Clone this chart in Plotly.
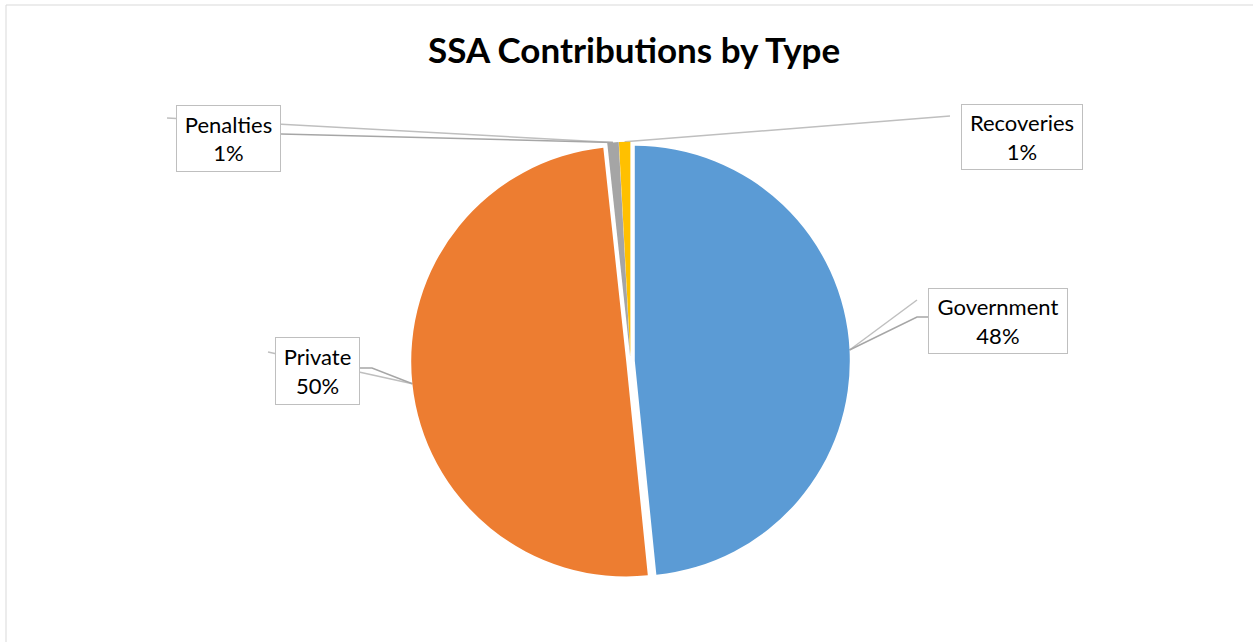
import math
import plotly.graph_objects as go

# ---- data ----
labels = ["Government", "Private", "Penalties", "Recoveries"]
values = [48.4, 49.9, 0.85, 0.85]
colors = ["#5B9BD5", "#ED7D31", "#A5A5A5", "#FFC000"]
title_text = "SSA Contributions by Type"

# ---- layout constants ----
W, H = 1253, 642
OFF = 0                      # page body margin removed via post_script
CX, CY = 630.5, 361.0        # pie centre in page pixels
R = 215.0                    # pie radius in pixels
PULL = 0.02
FONT = "Lato, Calibri, Carlito, sans-serif"

def px(x):
    return (x - OFF) / W

def py(y):
    return 1 - (y - OFF) / H

total = sum(values)
fracs = [v / total for v in values]

# bisector angle (clockwise from 12 o'clock) of every slice
mids = []
acc = 0.0
for f in fracs:
    mids.append((acc + f / 2) * 360.0)
    acc += f

def anchor(i):
    a = math.radians(mids[i])
    rr = R * (1 + PULL)
    return CX + rr * math.sin(a), CY - rr * math.cos(a)

dom_h = 2 * R * (1 + PULL) / H
dom_w = 2 * R * (1 + PULL) / W

fig = go.Figure(go.Pie(
    labels=labels,
    values=values,
    sort=False,
    direction="clockwise",
    rotation=0,
    pull=[PULL] * len(values),
    marker=dict(colors=colors, line=dict(width=0)),
    textinfo="none",
    hoverinfo="label+percent",
    showlegend=False,
    domain=dict(x=[px(CX) - dom_w / 2, px(CX) + dom_w / 2],
                y=[py(CY) - dom_h / 2, py(CY) + dom_h / 2]),
))

# label boxes: centre x, centre y, width, height (page pixels)
boxes = {
    "Government": (998, 321, 140, 66),
    "Private": (317, 371, 85, 68),
    "Penalties": (228, 138.5, 105, 67),
    "Recoveries": (1022, 137.5, 122, 66),
}

# leader line start points (pixel paths ending at the slice)
leaders = {
    "Government": [[(917, 300)], [(928, 317), (917, 317)]],
    "Private": [[(268, 352)], [(360, 368), (372, 368)]],
    "Penalties": [[(167, 118)], [(281, 134)]],
    "Recoveries": [[(950, 116)]],
}

shapes = []
# outer chart frame
shapes.append(dict(type="rect", xref="paper", yref="paper",
                   x0=px(6), x1=px(W + 40), y0=py(H + 40), y1=py(5),
                   line=dict(color="#D9D9D9", width=1), fillcolor="rgba(0,0,0,0)",
                   layer="below"))

for i, lab in enumerate(labels):
    ax, ay = anchor(i)
    for k, path in enumerate(leaders[lab]):
        pts = path + [(ax, ay)]
        d = "M " + " L ".join(f"{px(x)},{py(y)}" for x, y in pts)
        shapes.append(dict(type="path", xref="paper", yref="paper", path=d,
                           line=dict(color="#A6A6A6" if k else "#BFBFBF", width=1.5),
                           layer="below"))

annotations = [dict(text=f"<b>{title_text}</b>", x=px(634), y=py(49),
                    xref="paper", yref="paper", showarrow=False,
                    xanchor="center", yanchor="middle",
                    font=dict(family=FONT, size=35, color="#000000"))]

for i, lab in enumerate(labels):
    bx, by, bw, bh = boxes[lab]
    pct = round(fracs[i] * 100)
    annotations.append(dict(
        text=f"{lab}<br>{pct}%", x=px(bx), y=py(by), xref="paper", yref="paper",
        showarrow=False, xanchor="center", yanchor="middle", align="center",
        width=bw - 2, height=bh - 2, borderpad=0, bgcolor="#FFFFFF",
        bordercolor="#BFBFBF", borderwidth=1,
        font=dict(family=FONT, size=22, color="#000000")))

fig.update_layout(
    width=W, height=H,
    margin=dict(l=0, r=0, t=0, b=0),
    paper_bgcolor="#FFFFFF",
    plot_bgcolor="#FFFFFF",
    shapes=shapes,
    annotations=annotations,
)

fig.write_html("out.html",
               config={"displayModeBar": False},
               post_script="document.body.style.margin='0';document.body.style.overflow='hidden';")
